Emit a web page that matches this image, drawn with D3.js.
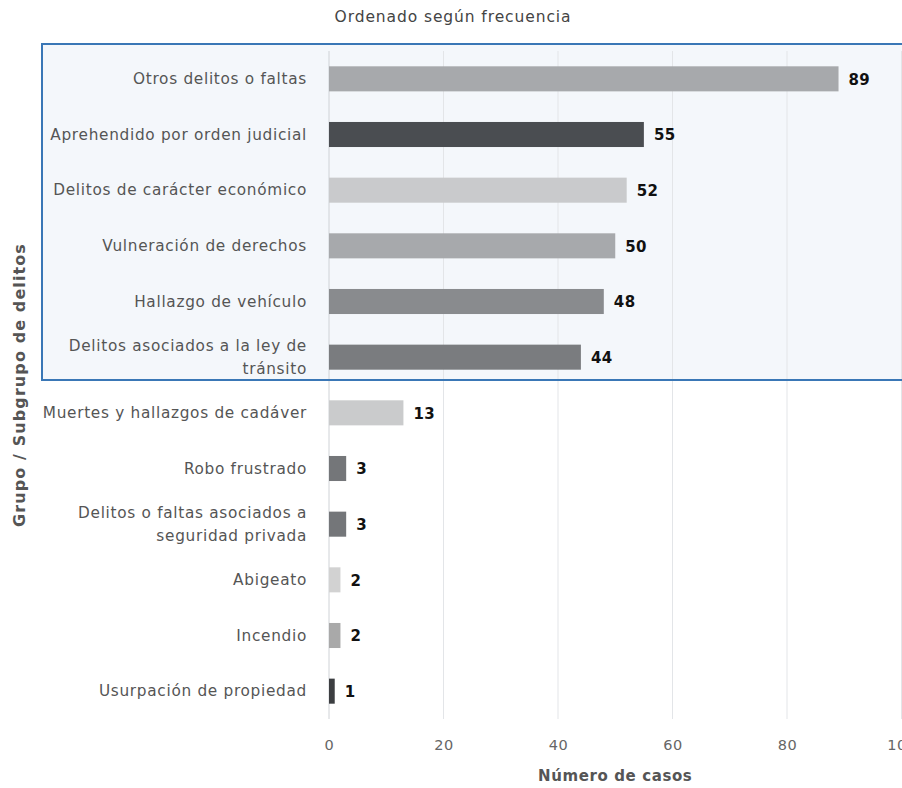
<!DOCTYPE html>
<html>
<head>
<meta charset="utf-8">
<script src="https://cdn.jsdelivr.net/npm/d3@7"></script>
<style>
  html, body { margin: 0; padding: 0; background: #ffffff; }
  svg { display: block; font-family: "DejaVu Sans", sans-serif; }
</style>
</head>
<body>
<svg id="chart" width="902" height="788"></svg>
<script>
// ---- data ----
const categories = [
  "Otros delitos o faltas",
  "Aprehendido por orden judicial",
  "Delitos de carácter económico",
  "Vulneración de derechos",
  "Hallazgo de vehículo",
  "Delitos asociados a la ley de tránsito",
  "Muertes y hallazgos de cadáver",
  "Robo frustrado",
  "Delitos o faltas asociados a seguridad privada",
  "Abigeato",
  "Incendio",
  "Usurpación de propiedad"
];
const values = [89, 55, 52, 50, 48, 44, 13, 3, 3, 2, 2, 1];
const xTicks = [0, 20, 40, 60, 80, 100];
const highlightedCount = 6;

// ---- styles ----
const barColors = ["#a7a9ac", "#4a4d51", "#c9cacc", "#a7a9ac", "#898b8e", "#7a7c7f",
                   "#cacbcc", "#747679", "#747679", "#d2d2d2", "#a9a9a9", "#3c3e41"];
const titleText = "Ordenado según frecuencia";
const xTitle = "Número de casos";
const yTitle = "Grupo / Subgrupo de delitos";

const svg = d3.select("#chart");
const margin = { left: 329, top: 51, bottom: 69 };
const W = 902, H = 788;

const x = d3.scaleLinear().domain([0, 100]).range([margin.left, 901.5]);
const y = d3.scaleBand().domain(categories).range([margin.top, H - margin.bottom]).paddingInner(0.55).paddingOuter(0.275);

const bandStep = y.step();
const boxBottom = y(categories[highlightedCount - 1]) + y.bandwidth() / 2 + bandStep / 2 - 5;

// highlight box fill
svg.append("rect")
  .attr("x", 42).attr("y", 44)
  .attr("width", 870).attr("height", boxBottom - 44)
  .attr("fill", "#f4f7fb");

// gridlines
svg.append("g").selectAll("line").data(xTicks).join("line")
  .attr("x1", d => x(d)).attr("x2", d => x(d))
  .attr("y1", margin.top).attr("y2", H - margin.bottom)
  .attr("stroke", d => d === 0 ? "#cfd2d6" : "#e3e5e8").attr("stroke-width", 1);

// highlight box border
svg.append("rect")
  .attr("x", 42).attr("y", 44)
  .attr("width", 870).attr("height", boxBottom - 44)
  .attr("fill", "none")
  .attr("stroke", "#3a77b6").attr("stroke-width", 2);

// bars
svg.append("g").selectAll("rect").data(values).join("rect")
  .attr("x", x(0))
  .attr("y", (d, i) => y(categories[i]))
  .attr("width", d => x(d) - x(0))
  .attr("height", y.bandwidth())
  .attr("fill", (d, i) => barColors[i]);

// value labels
svg.append("g").selectAll("text").data(values).join("text")
  .attr("x", d => x(d) + 10)
  .attr("y", (d, i) => y(categories[i]) + y.bandwidth() / 2)
  .attr("dy", "0.38em")
  .attr("font-size", 15).attr("font-weight", "bold").attr("fill", "#111")
  .attr("letter-spacing", 0.4)
  .text(d => d);

// x axis
const xAxis = d3.axisBottom(x).tickValues(xTicks).tickSize(0).tickPadding(21);
const gx = svg.append("g").attr("transform", `translate(0,${H - margin.bottom})`).call(xAxis);
gx.select(".domain").remove();
gx.selectAll("text").attr("font-size", 14.5).attr("fill", "#666")
  .attr("letter-spacing", 0.6).attr("font-family", "DejaVu Sans, sans-serif");

// y axis labels (wrapped)
const yAxis = d3.axisLeft(y).tickSize(0).tickPadding(22);
const gy = svg.append("g").attr("transform", `translate(${margin.left},0)`).call(yAxis);
gy.select(".domain").remove();
gy.selectAll("text").attr("font-size", 15.3).attr("fill", "#555")
  .attr("letter-spacing", 0.7).attr("font-family", "DejaVu Sans, sans-serif");

function wrap(sel, width) {
  sel.each(function() {
    const t = d3.select(this);
    const words = t.text().split(/\s+/);
    const xPos = t.attr("x");
    t.text(null);
    let lines = [];
    let line = [];
    const tmp = t.append("tspan").attr("x", xPos);
    for (const w of words) {
      line.push(w);
      tmp.text(line.join(" "));
      if (tmp.node().getComputedTextLength() > width && line.length > 1) {
        line.pop();
        lines.push(line.join(" "));
        line = [w];
      }
    }
    lines.push(line.join(" "));
    tmp.remove();
    const lh = 1.55;
    const start = -(lines.length - 1) * lh / 2;
    lines.forEach((l, i) => {
      t.append("tspan").attr("x", xPos)
        .attr("dy", i === 0 ? (start + 0.34) + "em" : lh + "em")
        .text(l);
    });
    t.attr("dy", null);
  });
}
gy.selectAll("text").call(wrap, 275);

// title
svg.append("text")
  .attr("x", 453).attr("y", 22)
  .attr("text-anchor", "middle")
  .attr("font-size", 15.5).attr("fill", "#444")
  .attr("letter-spacing", 0.9)
  .text(titleText);

// x axis title
svg.append("text")
  .attr("x", x(50)).attr("y", 781)
  .attr("text-anchor", "middle")
  .attr("font-size", 15).attr("font-weight", "bold").attr("fill", "#555")
  .attr("letter-spacing", 0.6)
  .text(xTitle);

// y axis title
svg.append("text")
  .attr("transform", `translate(25,${(margin.top + H - margin.bottom) / 2}) rotate(-90)`)
  .attr("text-anchor", "middle")
  .attr("font-size", 16).attr("font-weight", "bold").attr("fill", "#555")
  .attr("letter-spacing", 1.1)
  .text(yTitle);
</script>
</body>
</html>
